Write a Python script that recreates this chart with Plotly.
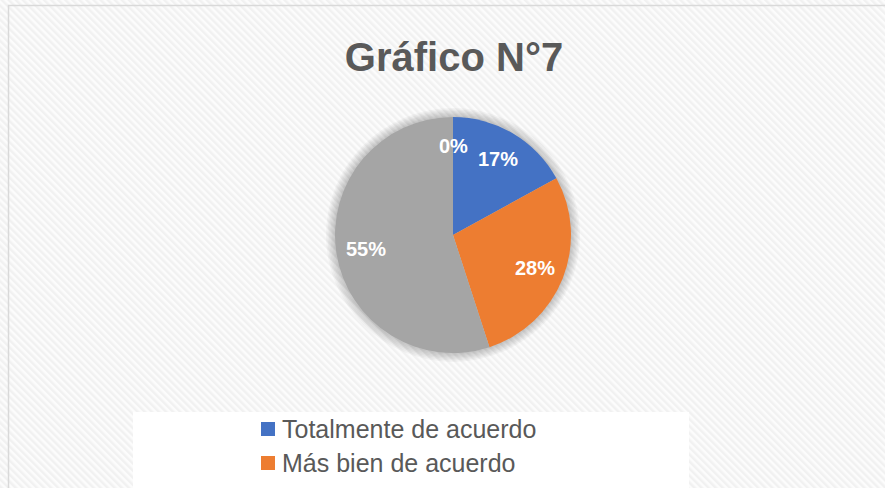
import base64
import math
import plotly.graph_objects as go

# ---- data ----
categories = ["Totalmente de acuerdo", "Más bien de acuerdo",
              "Más bien en desacuerdo", "Totalmente en desacuerdo"]
values = [17, 28, 55, 0]
colors = ["#4472C4", "#ED7D31", "#A5A5A5", "#FFC000"]
title_text = "Gráfico N°7"

W, H = 885, 488
cx, cy, R = 453, 235, 118  # pie centre / radius in pixels

def px(x):
    return x / W

def py(y):
    return 1 - y / H

fig = go.Figure()
fig.add_trace(go.Pie(
    labels=categories, values=values, sort=False, direction="clockwise",
    rotation=0, marker=dict(colors=colors, line=dict(width=0)),
    textinfo="none", hoverinfo="label+percent", showlegend=False,
    domain=dict(x=[px(cx - R), px(cx + R)], y=[py(cy + R), py(cy - R)]),
))

# background hatch
svg = (f'<svg xmlns="http://www.w3.org/2000/svg" width="{W}" height="{H}">'
       '<defs><pattern id="p" width="5" height="5" patternUnits="userSpaceOnUse" '
       'patternTransform="rotate(-45)"><rect width="2.5" height="5" fill="#f1f1f1"/></pattern></defs>'
       '<rect width="100%" height="100%" fill="#fcfcfc"/>'
       '<rect width="100%" height="100%" fill="url(#p)"/></svg>')
src = "data:image/svg+xml;base64," + base64.b64encode(svg.encode()).decode()

shapes = []
# soft shadow around pie
for k in range(1, 7):
    rr = R + k * 1.5
    shapes.append(dict(type="circle", xref="paper", yref="paper",
                       x0=px(cx - rr), x1=px(cx + rr), y0=py(cy + rr), y1=py(cy - rr),
                       fillcolor="rgba(0,0,0,0.035)", line=dict(width=0), layer="below"))
# chart border
shapes.append(dict(type="rect", xref="paper", yref="paper",
                   x0=px(8.5), x1=1.02, y0=-0.02, y1=py(5.5),
                   line=dict(color="#d9d9d9", width=1.5), fillcolor="rgba(0,0,0,0)", layer="below"))
# legend white box
shapes.append(dict(type="rect", xref="paper", yref="paper",
                   x0=px(133), x1=px(689), y0=-0.02, y1=py(412),
                   line=dict(width=0), fillcolor="white", layer="below"))

annotations = []
# slice labels
total = sum(values)
cum = 0
for v in values:
    mid = (cum + v / 2) / total * 2 * math.pi
    cum += v
    rl = 0.75 * R
    x = cx + rl * math.sin(mid)
    y = cy - rl * math.cos(mid)
    annotations.append(dict(x=px(x), y=py(y), xref="paper", yref="paper",
                            xanchor="center", yanchor="middle",
                            text=f"{round(v / total * 100)}%", showarrow=False,
                            font=dict(family="Liberation Sans, Arial", size=20, color="white",
                                      weight="bold")))

# legend entries (the chart area cuts the list after the rows that fit)
for i, (lab, col) in enumerate(zip(categories, colors)):
    yc = 429 + i * 34
    if yc + 12 > H:
        break
    shapes.append(dict(type="rect", xref="paper", yref="paper",
                       x0=px(261), x1=px(275), y0=py(yc + 7), y1=py(yc - 7),
                       fillcolor=col, line=dict(width=0)))
    annotations.append(dict(x=px(280), y=py(yc), xref="paper", yref="paper",
                            xanchor="left", yanchor="middle", text=lab, showarrow=False,
                            font=dict(family="Liberation Sans, Arial", size=25, color="#595959")))

fig.update_layout(
    width=W, height=H, margin=dict(l=0, r=0, t=0, b=0),
    paper_bgcolor="white", plot_bgcolor="white",
    title=dict(text=f"<b>{title_text}</b>", x=px(454), xanchor="center",
               y=py(57), yanchor="middle",
               font=dict(family="Liberation Sans, Arial", size=40, color="#595959")),
    images=[dict(source=src, xref="paper", yref="paper", x=0, y=1, sizex=1, sizey=1,
                 sizing="stretch", layer="below", xanchor="left", yanchor="top")],
    shapes=shapes, annotations=annotations,
)

fig.write_html("out.html", config={"displayModeBar": False},
               post_script="document.body.style.margin='0';document.body.style.overflow='hidden';")
